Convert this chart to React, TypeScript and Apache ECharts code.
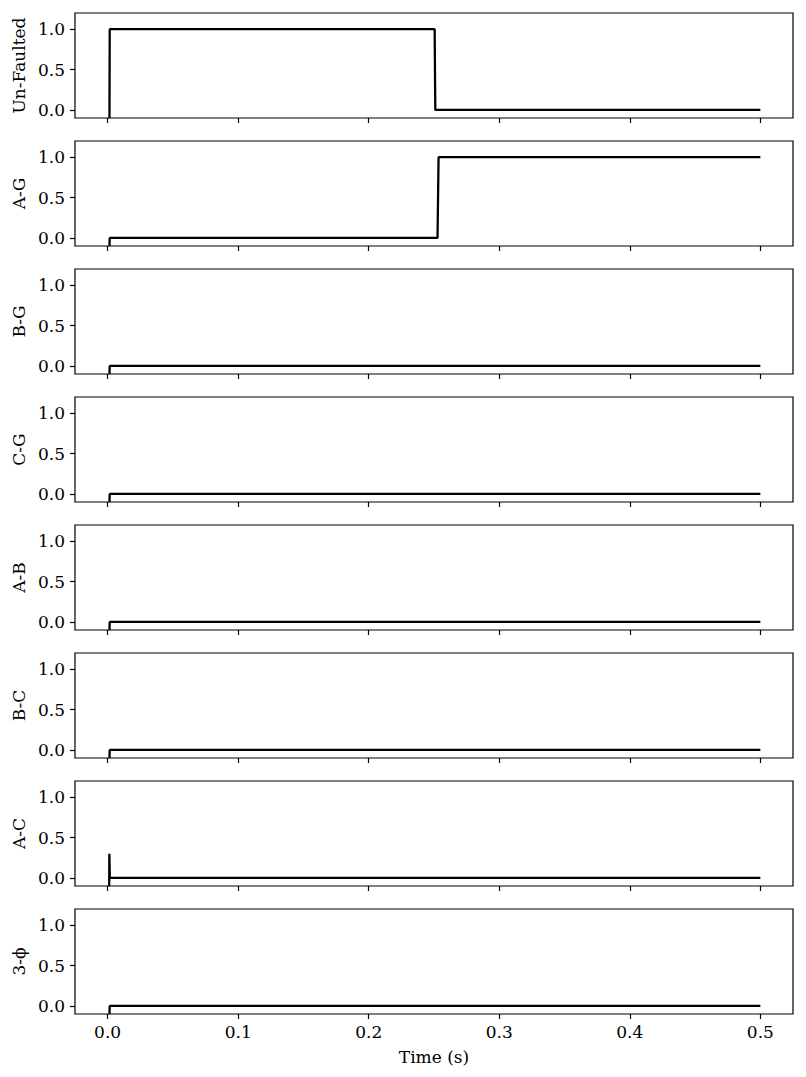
import React, { useEffect, useRef } from "react";
import * as echarts from "echarts";

const panelNames = ["Un-Faulted", "A-G", "B-G", "C-G", "A-B", "B-C", "A-C", "3-ϕ"];

const unFaultedT = [0.0014, 0.0016, 0.2505, 0.251, 0.5];
const unFaultedV = [-0.1, 1, 1, 0, 0];

const agT = [0.0014, 0.0016, 0.2527, 0.2535, 0.5];
const agV = [-0.1, 0, 0, 1, 1];

const zeroT = [0.0014, 0.0016, 0.5];
const zeroV = [-0.1, 0, 0];

const acT = [0.0012, 0.0013, 0.0017, 0.5];
const acV = [-0.1, 0.3, 0, 0];

const seriesT = [unFaultedT, agT, zeroT, zeroT, zeroT, zeroT, acT, zeroT];
const seriesV = [unFaultedV, agV, zeroV, zeroV, zeroV, zeroV, acV, zeroV];

const xTicks = [0, 0.1, 0.2, 0.3, 0.4, 0.5];
const yTicks = [0, 0.5, 1.0];

const FONT = "DejaVu Serif";
const FS = 17;

export default function App() {
  const ref = useRef<HTMLDivElement>(null);
  useEffect(() => {
    if (!ref.current) return;
    const chart = echarts.init(ref.current, null, { renderer: "svg" });
    const n = panelNames.length;
    const grids = [];
    const xAxes = [];
    const yAxes = [];
    const series = [];
    for (let i = 0; i < n; i++) {
      const last = i === n - 1;
      grids.push({
        left: 75,
        right: 13,
        top: 13 + 128 * i,
        height: 105,
        show: true,
        borderColor: "#000",
        borderWidth: 1.2,
        backgroundColor: "transparent",
      });
      xAxes.push({
        type: "value",
        gridIndex: i,
        min: -0.025,
        max: 0.525,
        position: "bottom",
        axisLine: { show: false, onZero: false },
        splitLine: { show: false },
        axisTick: { show: true, length: 5, lineStyle: { color: "#000", width: 1.2 }, customValues: xTicks },
        axisLabel: {
          show: last,
          customValues: xTicks,
          formatter: (v: number) => v.toFixed(1),
          color: "#000",
          fontFamily: FONT,
          fontSize: FS,
          margin: 9,
        },
        name: last ? "Time (s)" : "",
        nameLocation: "middle",
        nameGap: 34,
        nameTextStyle: { color: "#000", fontFamily: FONT, fontSize: FS },
      });
      yAxes.push({
        type: "value",
        gridIndex: i,
        min: -0.1,
        max: 1.2,
        position: "left",
        axisLine: { show: false, onZero: false },
        splitLine: { show: false },
        axisTick: { show: true, length: 5, lineStyle: { color: "#000", width: 1.2 }, customValues: yTicks },
        axisLabel: {
          customValues: yTicks,
          formatter: (v: number) => v.toFixed(1),
          color: "#000",
          fontFamily: FONT,
          fontSize: FS,
          margin: 10,
        },
        name: panelNames[i],
        nameLocation: "middle",
        nameGap: 43,
        nameRotate: 90,
        nameTextStyle: { color: "#000", fontFamily: FONT, fontSize: FS },
      });
      const t = seriesT[i];
      const v = seriesV[i];
      series.push({
        type: "line",
        xAxisIndex: i,
        yAxisIndex: i,
        data: t.map((x, k) => [x, v[k]]),
        showSymbol: false,
        symbol: "none",
        clip: true,
        lineStyle: { color: "#000", width: 2.3 },
      });
    }
    chart.setOption({
      animation: false,
      backgroundColor: "#fff",
      grid: grids,
      xAxis: xAxes,
      yAxis: yAxes,
      series,
    });
    return () => chart.dispose();
  }, []);
  return (
    <div
      ref={ref}
      style={{ position: "fixed", left: 0, top: 0, width: 806, height: 1077 }}
    />
  );
}
